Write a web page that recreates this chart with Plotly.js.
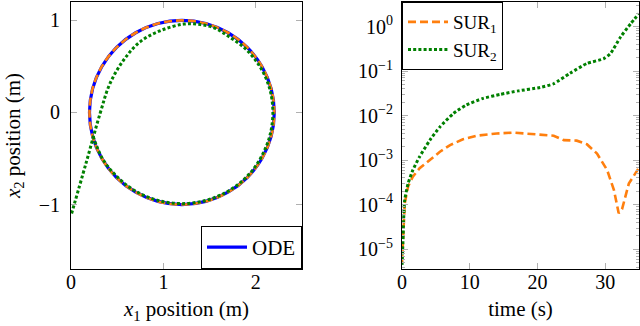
<!DOCTYPE html>
<html>
<head>
<meta charset="utf-8">
<script src="https://cdn.plot.ly/plotly-3.0.1.min.js"></script>
<style>html,body{margin:0;padding:0;background:#fff;}#chart{width:640px;height:326px;}</style>
</head>
<body>
<div id="chart"></div>
<script>
// ---- Left panel: trajectories (x1, x2 in m) ----
var odeX = [0.234, 0.334, 0.493, 0.700, 0.941, 1.200, 1.459, 1.700, 1.907, 2.066, 2.166, 2.200, 2.166, 2.066, 1.907, 1.700, 1.459, 1.200, 0.941, 0.700, 0.493, 0.334, 0.234, 0.200, 0.234];
var odeY = [-0.259, -0.500, -0.707, -0.866, -0.966, -1.000, -0.966, -0.866, -0.707, -0.500, -0.259, 0.000, 0.259, 0.500, 0.707, 0.866, 0.966, 1.000, 0.966, 0.866, 0.707, 0.500, 0.259, 0.000, -0.259];

var sur1X = [0.234, 0.334, 0.493, 0.700, 0.941, 1.200, 1.459, 1.700, 1.907, 2.066, 2.166, 2.200, 2.166, 2.066, 1.907, 1.700, 1.459, 1.200, 0.941, 0.700, 0.493, 0.334, 0.234, 0.200, 0.234];
var sur1Y = [-0.259, -0.500, -0.707, -0.866, -0.966, -1.000, -0.966, -0.866, -0.707, -0.500, -0.259, 0.000, 0.259, 0.500, 0.707, 0.866, 0.966, 1.000, 0.966, 0.866, 0.707, 0.500, 0.259, 0.000, -0.259];

var sur2X = [0.24, 0.34, 0.50, 0.70, 0.94, 1.20, 1.46, 1.70, 1.90, 2.05, 2.15, 2.185, 2.15, 2.05, 1.89, 1.70, 1.55, 1.40, 1.22, 0.97, 0.75, 0.57, 0.42, 0.315, 0.16, 0.00];
var sur2Y = [-0.26, -0.50, -0.70, -0.855, -0.955, -0.99, -0.955, -0.855, -0.70, -0.50, -0.26, 0.00, 0.26, 0.49, 0.69, 0.83, 0.92, 0.955, 0.96, 0.89, 0.77, 0.57, 0.31, -0.01, -0.56, -1.12];

// ---- Right panel: errors vs time ----
var sur1T = [0, 0.1, 0.4, 0.9, 1.6, 2.6, 4.1, 5.6, 7.1, 9.0, 11, 14, 16.4, 18.5, 20.4, 22.4, 23.9, 25.8, 27.3, 28.8, 30.3, 31.3, 32.0, 32.5, 33.5, 34.7, 35];
var sur1E = [5.0e-6, 1.3e-5, 1.07e-4, 2.57e-4, 4.27e-4, 6.6e-4, 1.0e-3, 1.55e-3, 2.19e-3, 2.95e-3, 3.55e-3, 3.98e-3, 4.17e-3, 3.98e-3, 3.72e-3, 3.55e-3, 2.82e-3, 2.75e-3, 2.29e-3, 1.41e-3, 6.0e-4, 2.14e-4, 6.5e-5, 8.0e-5, 3.0e-4, 6.0e-4, 6.8e-4];

var sur2T = [0, 0.1, 0.25, 0.4, 0.9, 1.6, 2.6, 4.1, 5.6, 7.6, 9.5, 12, 14.5, 17.2, 20.4, 22.4, 24.8, 27.3, 29.8, 30.8, 32.3, 33.8, 35];
var sur2E = [4.5e-6, 1.0e-5, 5.0e-5, 1.29e-4, 3.0e-4, 6.0e-4, 1.2e-3, 2.8e-3, 5.6e-3, 1.12e-2, 1.74e-2, 2.45e-2, 3.0e-2, 3.6e-2, 4.3e-2, 5.2e-2, 8.9e-2, 0.148, 0.19, 0.25, 0.59, 1.17, 1.95];

var logTickVals = [1e-5, 1e-4, 1e-3, 1e-2, 1e-1, 1];
var logTickText = ['10<sup>\u22125</sup>', '10<sup>\u22124</sup>', '10<sup>\u22123</sup>', '10<sup>\u22122</sup>', '10<sup>\u22121</sup>', '10<sup>0</sup>'];

var minorVals = [];
for (var e = -6; e <= 0; e++) { for (var m = 2; m <= 9; m++) { minorVals.push(m * Math.pow(10, e)); } }

var FONT = '"Liberation Serif", "DejaVu Serif", serif';
var BLUE = '#0000ff', ORANGE = '#ff7f0e', GREEN = '#008000';

var traces = [
  {x: odeX, y: odeY, xaxis: 'x', yaxis: 'y', mode: 'lines', name: 'ODE', legend: 'legend',
   line: {color: BLUE, width: 3.2, shape: 'spline', smoothing: 1}},
  {x: sur1X, y: sur1Y, xaxis: 'x', yaxis: 'y', mode: 'lines', name: 'SUR<sub>1</sub>', showlegend: false,
   line: {color: ORANGE, width: 2.6, dash: '8px,4px', shape: 'spline', smoothing: 1}},
  {x: sur2X, y: sur2Y, xaxis: 'x', yaxis: 'y', mode: 'lines', name: 'SUR<sub>2</sub>', showlegend: false,
   line: {color: GREEN, width: 3, dash: '3px,2.2px', shape: 'spline', smoothing: 1}},
  {x: sur1T, y: sur1E, xaxis: 'x2', yaxis: 'y2', mode: 'lines', name: 'SUR<sub>1</sub>', legend: 'legend2',
   line: {color: ORANGE, width: 2.6, dash: '8px,4px'}},
  {x: sur2T, y: sur2E, xaxis: 'x2', yaxis: 'y2', mode: 'lines', name: 'SUR<sub>2</sub>', legend: 'legend2',
   line: {color: GREEN, width: 3, dash: '3px,2.2px', shape: 'spline', smoothing: 0.5}}
];

function baseAxis(extra) {
  var a = {showline: true, linecolor: '#000', linewidth: 1, mirror: 'ticks', ticks: 'inside', ticklen: 6,
    tickcolor: '#b0b0b0', tickwidth: 1, showgrid: false, zeroline: false, automargin: false,
    tickfont: {family: FONT, size: 20, color: '#000'}};
  for (var k in extra) a[k] = extra[k];
  return a;
}

var layout = {
  width: 640, height: 326,
  margin: {l: 0, r: 0, t: 0, b: 0},
  paper_bgcolor: '#fff', plot_bgcolor: '#fff',
  font: {family: FONT, size: 20, color: '#000'},
  xaxis: baseAxis({domain: [71/640, 302/640], range: [0, 2.5], tickvals: [0, 1, 2], anchor: 'y',
    ticklabelstandoff: -5,
    title: {text: '<i>x</i><sub>1</sub> position (m)', font: {family: FONT, size: 21}, standoff: 9}}),
  yaxis: baseAxis({domain: [57/326, 324/326], range: [-1.7, 1.2], tickvals: [-1, 0, 1], anchor: 'x',
    ticklabelstandoff: 6,
    title: {text: '<i>x</i><sub>2</sub> position (m)', font: {family: FONT, size: 21}, standoff: 12}}),
  xaxis2: baseAxis({domain: [402/640, 639/640], range: [0, 35], tickvals: [0, 10, 20, 30], anchor: 'y2',
    ticklabelstandoff: -5,
    title: {text: 'time (s)', font: {family: FONT, size: 21}, standoff: 9}}),
  yaxis2: baseAxis({domain: [57/326, 324/326], type: 'log', range: [-5.44, 0.55], anchor: 'x2',
    tickmode: 'array', tickvals: logTickVals, ticktext: logTickText, ticklabelstandoff: 4,
    minor: {tickmode: 'array', tickvals: minorVals, ticks: 'inside', ticklen: 3, tickcolor: '#b0b0b0', showgrid: false}}),
  legend: {x: 302/640, y: 57/326, xanchor: 'right', yanchor: 'bottom', bgcolor: '#fff', itemwidth: 40,
    bordercolor: '#000', borderwidth: 1, font: {family: FONT, size: 21}, tracegroupgap: 0},
  legend2: {x: 402/640, y: 324/326, xanchor: 'left', yanchor: 'top', bgcolor: '#fff', itemwidth: 40,
    bordercolor: '#000', borderwidth: 1, font: {family: FONT, size: 19}, tracegroupgap: 0}
};

Plotly.newPlot('chart', traces, layout, {displayModeBar: false, staticPlot: true});
</script>
</body>
</html>
